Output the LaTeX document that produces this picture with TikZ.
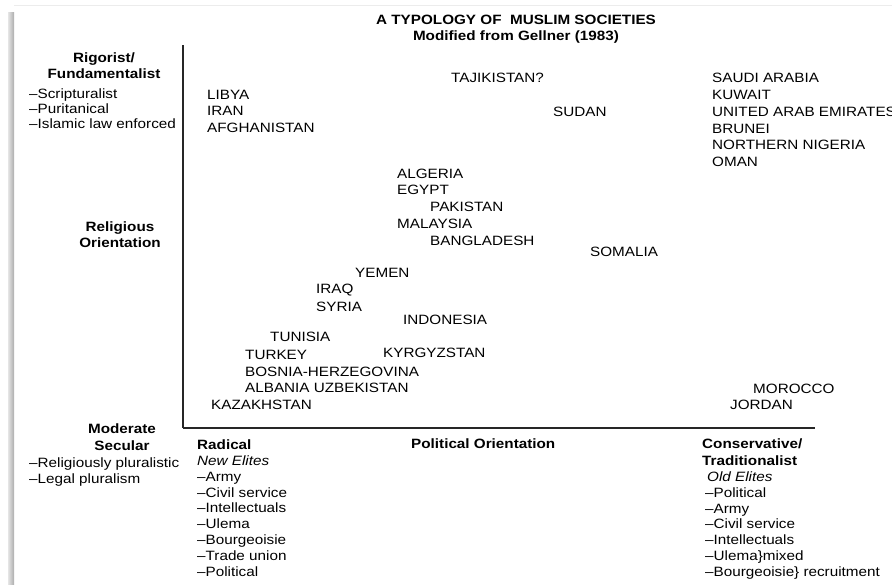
\documentclass[tikz,border=0pt]{standalone}
\usepackage{fontspec}
\setmainfont{Liberation Sans}[FakeStretch=1.13]
\begin{document}
\begin{tikzpicture}[x=1pt,y=-1pt,
  txt/.style={anchor=base west, inner sep=0pt, font=\fontsize{13.5}{15}\selectfont},
  hd/.style={anchor=base west, inner sep=0pt, font=\fontsize{13.5}{15}\selectfont\bfseries},
  hdc/.style={anchor=base, inner sep=0pt, font=\fontsize{13.5}{15}\selectfont\bfseries},
  it/.style={anchor=base west, inner sep=0pt, font=\fontsize{13.5}{15}\selectfont\itshape},
  axis/.style={line width=2pt, black!85}]
\useasboundingbox (0,0) rectangle (892,584);
% page frame shadow
\shade[left color=gray!20, right color=gray!65] (8,12) rectangle (14,584);
\draw[gray!15, line width=1pt] (14,5) -- (892,5);
% title
\node[hdc] (title) at (516,24) {A TYPOLOGY OF\ \ MUSLIM SOCIETIES};
\node[hdc] (subtitle) at (516,40) {Modified from Gellner (1983)};
% axes
\coordinate (ytop) at (183,45);
\coordinate (origin) at (183,428);
\coordinate (xend) at (815,428);
\draw[axis] (ytop) -- (origin);
\draw[axis, line width=2.5pt] (origin) -- (xend);
% left labels
\node[hdc] (rig) at (104,62) {Rigorist/};
\node[hdc] (fund) at (104,78) {Fundamentalist};
\node[txt] (scr) at (29,98) {–Scripturalist};
\node[txt] (pur) at (29,113) {–Puritanical};
\node[txt] (isl) at (29,128) {–Islamic law enforced};
\node[hdc] (rel) at (120,231) {Religious};
\node[hdc] (ori) at (120,247) {Orientation};
\node[hdc] (mod) at (122,433) {Moderate};
\node[hdc] (sec) at (122,450) {Secular};
\node[txt] (plu) at (29,467) {–Religiously pluralistic};
\node[txt] (leg) at (29,483) {–Legal pluralism};
% countries
\node[txt] (libya) at (207,99) {LIBYA};
\node[txt] (iran) at (207,115) {IRAN};
\node[txt] (afgh) at (207,132) {AFGHANISTAN};
\node[txt] (taji) at (451,82) {TAJIKISTAN?};
\node[txt] (sudan) at (553,116) {SUDAN};
\node[txt] (saudi) at (712,82) {SAUDI ARABIA};
\node[txt] (kuwait) at (712,99) {KUWAIT};
\node[txt] (uae) at (712,116) {UNITED ARAB EMIRATES};
\node[txt] (brunei) at (712,133) {BRUNEI};
\node[txt] (nnig) at (712,149) {NORTHERN NIGERIA};
\node[txt] (oman) at (712,166) {OMAN};
\node[txt] (alg) at (397,178) {ALGERIA};
\node[txt] (egy) at (397,194) {EGYPT};
\node[txt] (pak) at (430,211) {PAKISTAN};
\node[txt] (mal) at (397,228) {MALAYSIA};
\node[txt] (bang) at (430,245) {BANGLADESH};
\node[txt] (som) at (590,256) {SOMALIA};
\node[txt] (yem) at (355,277) {YEMEN};
\node[txt] (iraq) at (316,293) {IRAQ};
\node[txt] (syr) at (316,311) {SYRIA};
\node[txt] (indo) at (403,324) {INDONESIA};
\node[txt] (tun) at (270,341) {TUNISIA};
\node[txt] (tur) at (245,359) {TURKEY};
\node[txt] (kyr) at (383,357) {KYRGYZSTAN};
\node[txt] (bos) at (245,376) {BOSNIA-HERZEGOVINA};
\node[txt] (alb) at (245,392) {ALBANIA UZBEKISTAN};
\node[txt] (kaz) at (211,409) {KAZAKHSTAN};
\node[txt] (mor) at (753,393) {MOROCCO};
\node[txt] (jor) at (730,409) {JORDAN};
% bottom: radical
\node[hd] (rad) at (197,449) {Radical};
\node[it] (newel) at (197,465) {New Elites};
\node[txt] (r1) at (197,481) {–Army};
\node[txt] (r2) at (197,497) {–Civil service};
\node[txt] (r3) at (197,512) {–Intellectuals};
\node[txt] (r4) at (197,528) {–Ulema};
\node[txt] (r5) at (197,544) {–Bourgeoisie};
\node[txt] (r6) at (197,560) {–Trade union};
\node[txt] (r7) at (197,576) {–Political};
\node[hd] (polor) at (411,448) {Political Orientation};
% bottom: conservative
\node[hd] (cons) at (702,448) {Conservative/};
\node[hd] (trad) at (702,465) {Traditionalist};
\node[it] (oldel) at (707,481) {Old Elites};
\node[txt] (c1) at (705,497) {–Political};
\node[txt] (c2) at (705,513) {–Army};
\node[txt] (c3) at (705,528) {–Civil service};
\node[txt] (c4) at (705,544) {–Intellectuals};
\node[txt] (c5) at (705,560) {–Ulema\}mixed};
\node[txt] (c6) at (705,576) {–Bourgeoisie\} recruitment};
\end{tikzpicture}
\end{document}
